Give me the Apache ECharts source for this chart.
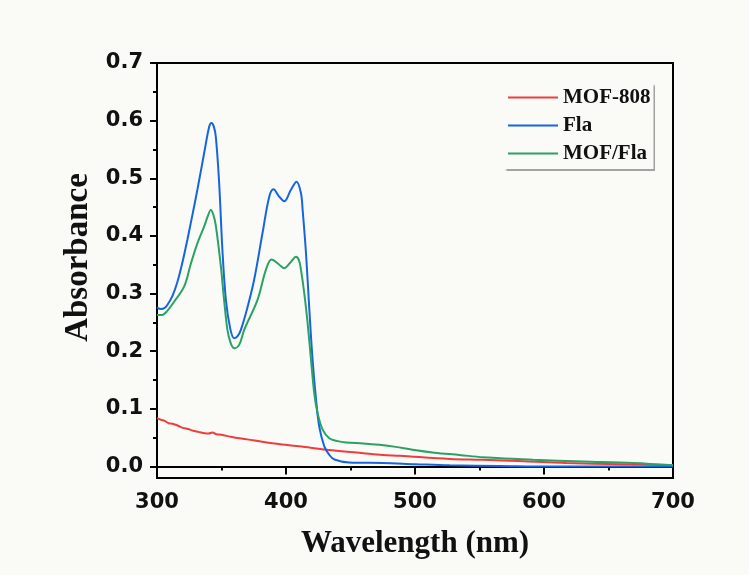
<!DOCTYPE html>
<html>
<head>
    <meta charset="utf-8">
    <title>Absorbance</title>
    <script src="https://cdn.jsdelivr.net/npm/echarts@6/dist/echarts.min.js"></script>
    <style>
        html, body { margin: 0; padding: 0; background: #fafaf7; }
    </style>
</head>
<body>
    <div id="main" style="width: 749px;height:575px;"></div>
    <script type="text/javascript">
        // series data: [wavelength (nm), absorbance]
        var mof808Data = [
            [300, 0.084], [303, 0.081], [306, 0.079], [309, 0.075], [312, 0.074],
            [316, 0.071], [320, 0.067], [324, 0.065], [328, 0.062], [332, 0.060],
            [336, 0.058], [340, 0.057], [343, 0.059], [346, 0.056], [350, 0.055],
            [358, 0.051], [370, 0.047], [384, 0.042], [398, 0.038], [410, 0.035],
            [436, 0.028], [460, 0.023], [475, 0.020], [488, 0.0185], [527, 0.013],
            [552, 0.0116], [585, 0.009], [617, 0.006], [660, 0.004], [700, 0.002]
        ];
        var flaData = [
            [300, 0.276], [303, 0.273], [306, 0.275], [308, 0.280], [312, 0.296],
            [315.8, 0.320], [319.5, 0.352], [323.5, 0.393], [327.5, 0.437], [331.3, 0.480],
            [336.5, 0.543], [340.4, 0.589], [342.2, 0.596], [344, 0.590], [345.6, 0.572],
            [348.2, 0.491], [350.7, 0.376], [353.4, 0.289], [356.7, 0.240], [359.8, 0.2225],
            [362.5, 0.226], [365, 0.237], [370, 0.275], [375.3, 0.324], [381.8, 0.405],
            [387, 0.468], [390.3, 0.481], [394.8, 0.468], [398.6, 0.460], [403.8, 0.480],
            [408.2, 0.494], [411.6, 0.474], [412.9, 0.445], [415.5, 0.370], [418.1, 0.272],
            [420.6, 0.185], [423.3, 0.116], [425.8, 0.069], [429.7, 0.035], [433.6, 0.020],
            [437.5, 0.012], [449, 0.007], [475, 0.006], [500, 0.004], [527, 0.002],
            [565, 0.001], [605, 0.000], [700, 0.000]
        ];
        var mofFlaData = [
            [300, 0.263], [304, 0.263], [308, 0.270], [313, 0.285], [321, 0.312],
            [326, 0.350], [331.3, 0.387], [336.5, 0.416], [339.5, 0.435], [341.7, 0.445],
            [343.5, 0.438], [345.6, 0.418], [349.5, 0.347], [352, 0.289], [354.6, 0.237],
            [357, 0.215], [359.8, 0.205], [363.7, 0.211], [367.6, 0.237], [377.9, 0.289],
            [384.4, 0.341], [388.8, 0.359], [394.8, 0.350], [398.6, 0.344], [403.8, 0.355],
            [407.7, 0.364], [410, 0.358], [411.6, 0.341], [414.2, 0.300], [416.7, 0.250],
            [419.4, 0.185], [421.9, 0.127], [424.5, 0.0925], [428.4, 0.064], [433.6, 0.049],
            [440, 0.044], [446.6, 0.0416], [460, 0.040], [472.4, 0.0376], [485, 0.034],
            [498, 0.029], [515, 0.024], [534.6, 0.020], [552.6, 0.016], [591.5, 0.0116],
            [630.3, 0.0087], [669.2, 0.006], [700, 0.002]
        ];
        var seriesNames = ['MOF-808', 'Fla', 'MOF/Fla'];
        var seriesColors = ['#ef3d3d', '#1565e0', '#2ba264'];
        var yMajorTicks = [0, 0.1, 0.2, 0.3, 0.4, 0.5, 0.6, 0.7];
        var yMinorTicks = [0.05, 0.15, 0.25, 0.35, 0.45, 0.55, 0.65];

        var myChart = echarts.init(document.getElementById('main'));

        var serifBold = {
            fontFamily: '"Liberation Serif", "Times New Roman", serif',
            fontWeight: 'bold',
            color: '#111'
        };
        var tickFont = {
            fontFamily: '"DejaVu Sans", Arial, sans-serif',
            fontWeight: 'bold',
            fontSize: 21,
            color: '#111'
        };

        var option = {
            backgroundColor: '#fafaf7',
            animation: false,
            grid: {
                left: 157,
                right: 76,
                top: 63,
                bottom: 97,
                show: true,
                borderColor: '#000',
                borderWidth: 2,
                backgroundColor: 'transparent'
            },
            legend: {
                orient: 'vertical',
                left: 503,
                top: 82,
                padding: [5, 3, 5, 5],
                itemWidth: 50,
                itemHeight: 2,
                itemGap: 7,
                icon: 'rect',
                backgroundColor: '#fafaf7',
                shadowColor: 'rgba(0,0,0,0.35)',
                shadowBlur: 1,
                shadowOffsetX: 1.5,
                shadowOffsetY: 1.5,
                data: seriesNames,
                textStyle: Object.assign({ fontSize: 21, lineHeight: 20 }, serifBold)
            },
            xAxis: {
                type: 'value',
                min: 300,
                max: 700,
                interval: 100,
                name: 'Wavelength (nm)',
                nameLocation: 'middle',
                nameGap: 50,
                nameTextStyle: Object.assign({ fontSize: 31 }, serifBold),
                axisLine: { lineStyle: { color: '#000', width: 2 } },
                axisTick: { length: 8, lineStyle: { color: '#000', width: 2 } },
                minorTick: { show: true, splitNumber: 2, length: 4, lineStyle: { color: '#000', width: 2 } },
                axisLabel: Object.assign({ margin: 14 }, tickFont),
                splitLine: { show: false }
            },
            yAxis: [{
                type: 'value',
                min: -0.02,
                max: 0.7,
                name: 'Absorbance',
                nameLocation: 'middle',
                nameGap: 62,
                nameTextStyle: Object.assign({ fontSize: 33, padding: [0, 0, 0, 26] }, serifBold),
                axisLine: { show: true, lineStyle: { color: '#000', width: 2 } },
                axisTick: { show: true, length: 7, customValues: yMajorTicks, lineStyle: { color: '#000', width: 2 } },
                axisLabel: Object.assign({
                    margin: 14,
                    customValues: yMajorTicks,
                    formatter: function (v) { return v.toFixed(1); }
                }, tickFont),
                splitLine: { show: false }
            }, {
                type: 'value',
                min: -0.02,
                max: 0.7,
                position: 'left',
                axisLine: { show: false },
                axisTick: { show: true, length: 4, customValues: yMinorTicks, lineStyle: { color: '#000', width: 2 } },
                axisLabel: { show: false },
                splitLine: { show: false }
            }],
            series: [mof808Data, flaData, mofFlaData].map(function (d, i) {
                return {
                    name: seriesNames[i],
                    type: 'line',
                    data: d,
                    showSymbol: false,
                    smooth: 0.35,
                    color: seriesColors[i],
                    lineStyle: { width: 2, color: seriesColors[i] }
                };
            })
        };

        myChart.setOption(option);
    </script>
</body>
</html>
